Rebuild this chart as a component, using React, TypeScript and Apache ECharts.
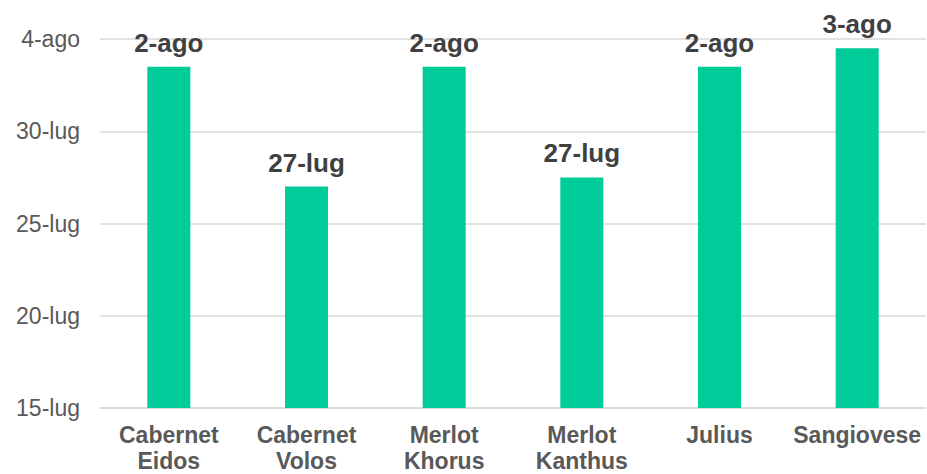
import React, { useEffect, useRef } from "react";
import * as echarts from "echarts";

// Days counted from 1 July (so 32 = 1 Aug)
const categories = ["Cabernet\nEidos", "Cabernet\nVolos", "Merlot\nKhorus", "Merlot\nKanthus", "Julius", "Sangiovese"];
const values = [33.5, 27, 33.5, 27.5, 33.5, 34.5];
const yTicks = [15, 20, 25, 30, 35];

function dayLabel(v: number): string {
  const d = Math.floor(v + 1e-6);
  if (d <= 31) return `${d}-lug`;
  return `${d - 31}-ago`;
}

const FONT = "'Liberation Sans', Arial, sans-serif";

export default function App() {
  const ref = useRef<HTMLDivElement>(null);
  useEffect(() => {
    if (!ref.current) return;
    const chart = echarts.init(ref.current, undefined, { renderer: "svg" });
    chart.setOption({
      animation: false,
      grid: { left: 100, right: 1, top: 39, bottom: 66, containLabel: false, outerBoundsMode: "none" },
      xAxis: {
        type: "category",
        data: categories,
        axisTick: { show: false },
        axisLine: { lineStyle: { color: "#d9d9d9", width: 1.5 } },
        axisLabel: {
          color: "#595959",
          fontFamily: FONT,
          fontWeight: "bold",
          fontSize: 23,
          lineHeight: 26,
          margin: 14,
          interval: 0,
        },
      },
      yAxis: {
        type: "value",
        min: yTicks[0],
        max: yTicks[yTicks.length - 1],
        interval: 5,
        axisLine: { show: false },
        axisTick: { show: false },
        splitLine: { lineStyle: { color: "#d9d9d9", width: 1.5 } },
        axisLabel: {
          color: "#595959",
          fontFamily: FONT,
          fontSize: 23,
          margin: 20,
          formatter: (v: number) => dayLabel(v),
        },
      },
      series: [
        {
          type: "bar",
          data: values,
          barWidth: 43,
          itemStyle: { color: "#00cc99" },
          label: {
            show: true,
            position: "top",
            distance: 11,
            color: "#404040",
            fontFamily: FONT,
            fontWeight: "bold",
            fontSize: 26,
            formatter: (p: any) => dayLabel(p.value),
          },
        },
      ],
    });
    return () => chart.dispose();
  }, []);
  return <div ref={ref} style={{ width: 927, height: 474, position: "absolute", left: 0, top: 0 }} />;
}
